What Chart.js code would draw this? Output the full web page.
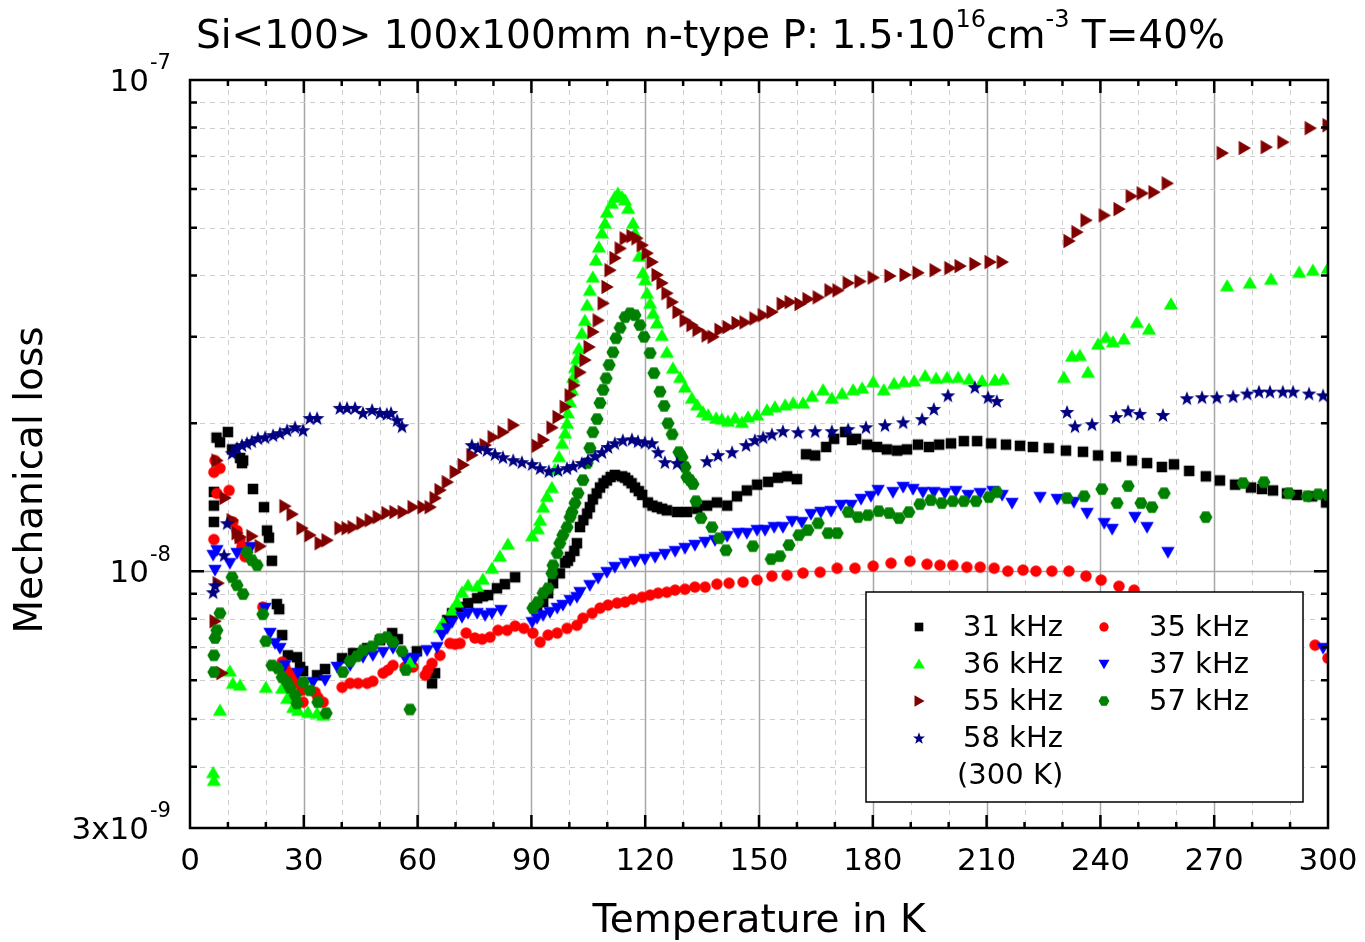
<!DOCTYPE html>
<html>
<head>
<meta charset="utf-8">
<title>Mechanical loss vs temperature</title>
<script src="https://cdn.jsdelivr.net/npm/chart.js@4.4.1/dist/chart.umd.min.js"></script>
<style>
  html, body { margin: 0; padding: 0; background: #fff; }
  #lossChart { display: block; }
</style>
</head>
<body>
<canvas id="lossChart" width="1365" height="942"></canvas>
<script>
// loss values are given in units of 1e-8, temperature in K
const LOSS_UNIT = 1e-8;

const xTickLabels = [0, 30, 60, 90, 120, 150, 180, 210, 240, 270, 300];
const xGridSteps = [10, 20, 30, 40, 50, 60, 70, 80, 90, 100, 110, 120, 130, 140, 150, 160, 170, 180, 190, 200, 210, 220, 230, 240, 250, 260, 270, 280, 290];
const yGridValues = [4e-9, 5e-9, 6e-9, 7e-9, 8e-9, 9e-9, 1e-8, 2e-8, 3e-8, 4e-8, 5e-8, 6e-8, 7e-8, 8e-8, 9e-8];
const yTickLabels = [
    { value: 1e-7, base: '10', exp: '-7' },
    { value: 1e-8, base: '10', exp: '-8' },
    { value: 3e-9, base: '3x10', exp: '-9' }
];

const loss31 = [[7.0,1.87],[7.9,1.83],[10.0,1.92],[6.3,1.45],[6.3,1.36],[6.3,1.26],[11.1,1.77],[13.2,1.70],[14.0,1.68],[13.7,1.66],[16.6,1.47],[19.5,1.35],[20.3,1.21],[20.8,1.17],[21.6,1.05],[22.9,0.857],[23.5,0.837],[24.3,0.741],[25.8,0.674],[28.2,0.668],[29.0,0.638],[29.8,0.626],[33.5,0.614],[35.6,0.632],[40.1,0.665],[43.0,0.681],[46.7,0.697],[50.1,0.724],[53.3,0.748],[54.8,0.727],[59.8,0.687],[64.6,0.620],[63.8,0.591],[67.8,0.795],[69.1,0.821],[71.2,0.845],[73.3,0.861],[75.7,0.881],[77.2,0.889],[78.6,0.894],[80.9,0.923],[83.0,0.941],[85.7,0.972],
    [91.5,0.845],[93.1,0.865],[94.4,0.902],[95.7,0.945],[97.5,0.99],[98.9,1.04],[99.6,1.05],[100.2,1.07],[101.3,1.10],[102.0,1.14],[102.8,1.23],[103.7,1.27],[104.7,1.31],[105.4,1.35],[106.2,1.40],[107.2,1.44],[108.1,1.48],[109.0,1.51],[109.9,1.53],[110.9,1.555],[112.0,1.57],[113.9,1.56],[114.7,1.55],[115.5,1.53],[116.4,1.51],[117.3,1.48],[118.3,1.455],[119.2,1.43],[120.7,1.38],[121.9,1.36],[123.1,1.35],[124.4,1.34],[125.7,1.33],[128.4,1.32],[131.0,1.32],[133.7,1.34],[136.3,1.36],[138.9,1.38],[141.6,1.36],[144.2,1.42],[146.8,1.46],[149.5,1.50],[152.4,1.52],[155.0,1.55],[157.4,1.56],[160.0,1.54],
    [162.4,1.73],[164.8,1.72],[167.7,1.79],[169.8,1.86],[172.7,1.92],[174.5,1.85],[175.6,1.86],[178.5,1.81],[181.1,1.79],[183.7,1.77],[186.4,1.76],[189.0,1.77],[191.9,1.81],[194.8,1.79],[197.5,1.81],[200.6,1.82],[204.0,1.84],[207.5,1.84],[211.2,1.82],[215.1,1.81],[218.8,1.80],[222.2,1.79],[226.4,1.78],[230.9,1.76],[235.4,1.75],[239.4,1.72],[244.1,1.71],[248.3,1.68],[252.3,1.66],[256.2,1.63],[259.4,1.65],[263.4,1.60],[267.8,1.56],[271.5,1.53],[275.5,1.50],[279.7,1.48],[282.6,1.47],[285.5,1.46],[289.2,1.44],[291.8,1.43],[295.8,1.42],[299.5,1.38]];

const loss35 = [[6.6,1.68],[6.3,1.59],[7.9,1.62],[7.1,1.44],[10.3,1.46],[11.3,1.26],[12.4,1.21],[13.2,1.16],[13.7,1.12],[14.5,1.07],[6.3,1.16],[19.2,0.845],[24.3,0.653],[25.0,0.638],[26.4,0.620],[27.2,0.605],[28.5,0.591],[29.5,0.572],[29.8,0.541],[33.0,0.567],[33.7,0.553],[35.1,0.541],[40.1,0.580],[42.2,0.591],[44.3,0.591],[46.7,0.591],[48.2,0.597],[50.9,0.620],[52.2,0.629],[53.5,0.643],[56.7,0.638],[58.8,0.638],[62.0,0.614],[62.7,0.629],[63.8,0.649],[65.9,0.674],[68.5,0.713],[69.9,0.710],[71.2,0.713],[72.8,0.748],[75.1,0.731],[77.0,0.727],[79.1,0.734],[81.2,0.758],[83.6,0.758],[85.7,0.773],[88.0,0.765],[90.4,0.748],[92.3,0.717],[94.4,0.741],[96.8,0.748],[99.4,0.765],[102.0,0.776],[103.6,0.802],[106.0,0.821],[108.1,0.841],[110.2,0.853],[112.6,0.861],[114.7,0.865],[116.8,0.877],[119.2,0.885],[121.3,0.894],[123.4,0.902],[125.7,0.906],[127.9,0.915],[130.5,0.919],[133.1,0.928],[135.8,0.928],[138.9,0.941],[142.1,0.945],[145.8,0.950],[149.5,0.959],[153.4,0.977],[157.4,0.981],[161.6,0.991],[166.1,0.995],[170.6,1.014],[175.3,1.014],[180.1,1.024],[184.8,1.038],[189.8,1.048],[194.3,1.033],[197.7,1.028],[201.1,1.028],[204.8,1.019],[208.3,1.019],[212.0,1.014],[215.6,1.0],[219.6,1.005],[223.0,1.0],[227.2,1.0],[231.7,1.0],[236.2,0.977],[240.2,0.959],[244.9,0.932],[248.9,0.915],[296.6,0.707],[300.0,0.665]];

const loss36 = [[6.1,0.389],[6.3,0.375],[7.9,0.521],[10.5,0.626],[11.3,0.591],[13.2,0.586],[20.0,0.580],[24.3,0.578],[25.6,0.551],[27.2,0.528],[28.5,0.521],[31.1,0.516],[33.5,0.514],[35.1,0.509],[58.0,0.653],[65.9,0.769],[66.7,0.784],[69.1,0.833],[70.4,0.865],[71.7,0.906],[73.3,0.936],[75.7,0.932],[77.2,0.963],[79.6,1.014],[81.7,1.073],[83.8,1.135],
    [90.2,1.18],[91.7,1.22],[92.3,1.27],[93.1,1.35],[94.1,1.42],[95.4,1.48],[96.2,1.61],[97.3,1.71],[98.1,1.82],[98.9,1.91],[99.4,2.0],[99.6,2.10],[100.2,2.21],[100.7,2.34],[101.0,2.48],[101.5,2.60],[102.0,2.71],[102.5,2.84],[103.3,3.05],[104.1,3.24],[104.7,3.48],[105.4,3.73],[106.2,3.97],[107.0,4.30],[107.8,4.57],[108.6,4.88],[109.4,5.11],[109.9,5.38],[111.2,5.61],[112.0,5.78],[112.8,5.88],[113.9,5.78],[114.7,5.70],[115.5,5.48],[116.8,5.11],[117.3,4.88],[118.4,4.38],[119.4,4.05],[120.0,3.92],[120.5,3.68],[121.3,3.51],[122.1,3.35],[123.1,3.20],[124.4,3.02],[125.7,2.79],[127.3,2.59],[129.2,2.48],[130.5,2.37],[132.3,2.25],[133.7,2.18],[135.2,2.11],[136.6,2.08],[138.7,2.05],[140.2,2.04],[141.8,2.02],[143.7,2.05],[145.5,2.01],[147.1,2.06],[149.5,2.08],[152.1,2.13],[154.2,2.16],[156.9,2.18],[159.0,2.20],[161.6,2.20],[164.0,2.27],[166.9,2.34],[169.2,2.25],[171.9,2.30],[174.8,2.34],[177.2,2.36],[180.1,2.43],[182.9,2.34],[185.6,2.41],[188.2,2.43],[190.9,2.44],[193.8,2.50],[196.7,2.47],[199.6,2.48],[202.5,2.48],[205.4,2.46],[208.8,2.44],[212.2,2.45],[214.3,2.46],
    [230.4,2.48],[232.5,2.74],[234.6,2.75],[236.7,2.54],[239.4,2.90],[241.5,2.99],[243.3,2.93],[246.2,2.97],[249.6,3.21],[252.8,3.11],[258.6,3.50],[273.4,3.81],[279.4,3.86],[285.0,3.93],[292.4,4.06],[296.0,4.10],[300.0,4.14]];

const loss37 = [[6.1,1.078],[7.1,1.103],[6.6,1.005],[10.5,1.038],[12.4,1.088],[16.1,1.119],[19.8,0.841],[21.1,0.748],[22.4,0.713],[23.7,0.697],[25.0,0.643],[28.5,0.620],[32.4,0.594],[35.6,0.600],[38.8,0.638],[42.2,0.643],[45.6,0.668],[48.2,0.674],[50.9,0.684],[53.5,0.697],[56.7,0.665],[59.3,0.665],[62.5,0.690],[65.1,0.700],[66.4,0.741],[67.8,0.765],[69.1,0.787],[71.7,0.806],[73.3,0.821],[75.7,0.821],[77.8,0.813],[79.6,0.821],[82.0,0.833],
    [90.2,0.787],[91.5,0.802],[93.1,0.813],[94.9,0.825],[96.8,0.841],[98.3,0.853],[100.2,0.873],[102.0,0.885],[102.8,0.906],[105.4,0.936],[107.6,0.968],[109.9,0.995],[112.0,1.019],[114.7,1.038],[117.3,1.048],[119.9,1.058],[122.6,1.068],[125.2,1.083],[127.9,1.098],[130.5,1.114],[133.1,1.130],[135.8,1.146],[138.4,1.156],[141.6,1.178],[144.5,1.195],[146.8,1.195],[149.5,1.212],[151.6,1.212],[154.0,1.229],[156.3,1.229],[158.7,1.264],[161.3,1.258],[163.7,1.306],[166.3,1.319],[169.0,1.325],[171.6,1.363],[174.3,1.363],[176.9,1.402],[179.5,1.421],[181.4,1.462],[185.3,1.448],[188.0,1.483],[190.6,1.469],[193.2,1.448],[196.1,1.448],[199.0,1.441],[201.9,1.455],[205.1,1.428],[208.3,1.441],[211.7,1.455],[214.1,1.428],[216.7,1.376],
    [224.1,1.415],[228.6,1.402],[233.0,1.382],[236.5,1.313],[241.0,1.252],[243.1,1.218],[249.1,1.288],[252.3,1.229],[257.8,1.093],[298.7,0.697]];

const loss55 = [[7.1,1.68],[9.2,1.41],[11.1,1.27],[12.4,1.195],[13.2,1.173],[16.3,1.178],[18.5,1.124],[7.4,0.945],[6.6,0.791],[8.4,0.620],[25.0,1.356],[26.9,1.306],[29.5,1.223],[31.6,1.184],[34.3,1.14],[36.1,1.156],[39.5,1.223],[41.4,1.223],[43.0,1.229],[45.3,1.252],[47.5,1.27],[49.6,1.288],[51.9,1.313],[54.0,1.319],[56.2,1.319],[58.8,1.35],[61.4,1.35],[63.3,1.35],[64.6,1.408],[65.9,1.462],[67.8,1.518],[69.9,1.592],[72.0,1.645],[74.3,1.723],[77.8,1.806],[79.9,1.874],[82.5,1.918],[85.2,1.983],
    [91.5,1.80],[93.1,1.85],[95.4,1.96],[97.0,2.06],[98.9,2.16],[100.2,2.28],[101.2,2.39],[102.8,2.54],[104.1,2.69],[105.2,2.86],[106.2,3.07],[107.6,3.24],[108.9,3.51],[109.9,3.79],[110.7,4.10],[112.0,4.34],[113.4,4.54],[114.7,4.76],[116.5,4.81],[117.8,4.76],[119.2,4.61],[120.5,4.44],[121.8,4.26],[123.1,4.01],[124.4,3.86],[125.7,3.68],[127.1,3.53],[128.6,3.37],[130.5,3.24],[132.3,3.17],[133.9,3.10],[136.3,3.02],[137.9,3.00],[139.7,3.10],[141.8,3.14],[144.2,3.20],[146.3,3.21],[148.9,3.27],[151.1,3.32],[153.4,3.37],[156.1,3.50],[158.2,3.53],[160.8,3.50],[162.9,3.58],[165.6,3.61],[168.7,3.73],[170.8,3.73],[173.5,3.86],[176.6,3.89],[180.1,3.96],[184.5,3.99],[188.5,4.01],[191.9,4.05],[196.4,4.10],[200.3,4.14],[203.0,4.18],[206.9,4.22],[210.9,4.26],[214.1,4.26],
    [231.7,4.70],[233.8,4.90],[236.2,5.18],[241.0,5.30],[244.9,5.46],[248.1,5.80],[251.0,5.88],[254.1,5.91],[257.6,6.16],[272.1,7.10],[277.9,7.27],[283.7,7.30],[288.1,7.47],[295.3,7.98],[300.0,8.09]];

const loss57 = [[6.3,0.623],[6.3,0.674],[6.6,0.731],[7.1,0.758],[7.9,0.821],[11.1,0.972],[12.4,0.936],[14.0,0.898],[15.0,1.093],[16.3,1.053],[17.7,1.028],[19.2,0.817],[20.0,0.720],[21.6,0.643],[23.2,0.634],[24.3,0.608],[25.6,0.594],[26.4,0.578],[27.7,0.559],[28.2,0.538],[29.8,0.594],[31.6,0.572],[33.7,0.541],[35.9,0.514],[40.3,0.623],[42.2,0.656],[44.0,0.671],[45.6,0.690],[48.0,0.703],[50.1,0.727],[51.9,0.734],[53.5,0.717],[55.9,0.687],[56.9,0.629],[58.0,0.523],
    [90.4,0.841],[91.7,0.865],[93.1,0.902],[94.4,0.923],[95.4,0.99],[95.7,1.028],[96.8,1.088],[97.5,1.14],[98.3,1.184],[99.4,1.229],[100.2,1.288],[100.7,1.319],[101.5,1.376],[102.3,1.441],[103.6,1.532],[104.7,1.66],[105.4,1.781],[106.2,1.918],[107.3,2.04],[108.1,2.20],[108.9,2.34],[109.7,2.47],[110.5,2.63],[111.5,2.79],[112.3,2.98],[113.4,3.13],[114.7,3.29],[116.0,3.35],[117.3,3.32],[118.6,3.17],[119.7,3.00],[121.3,2.78],[122.3,2.53],[123.9,2.32],[125.0,2.17],[126.0,2.00],[127.1,1.90],[128.9,1.747],[129.7,1.706],[130.5,1.63],[131.0,1.554],[131.8,1.532],[132.6,1.504],[133.4,1.388],[134.7,1.282],[137.6,1.229],[139.5,1.167],[141.3,1.103],[148.4,1.124],[153.2,1.058],[155.5,1.073],[157.9,1.130],[160.5,1.184],[162.9,1.212],[165.6,1.252],[168.2,1.195],[170.6,1.195],[173.5,1.319],[176.1,1.288],[178.7,1.30],[181.6,1.325],[184.3,1.313],[186.9,1.282],[189.5,1.319],[192.4,1.369],[195.3,1.395],[198.2,1.376],[201.1,1.388],[204.0,1.388],[207.2,1.388],[210.6,1.415],[212.7,1.448],
    [231.2,1.408],[235.7,1.421],[240.4,1.469],[244.4,1.376],[247.3,1.49],[250.7,1.376],[253.6,1.35],[256.8,1.441],[267.8,1.288],[277.6,1.511],[283.1,1.518],[289.7,1.441],[294.5,1.421],[297.4,1.434],[300.0,1.43]];

const loss58 = [[6.1,0.906],[6.6,0.936],[9.0,1.078],[9.8,1.252],[11.1,1.739],[12.4,1.781],[13.7,1.806],[15.0,1.822],[16.3,1.839],[17.9,1.865],[19.8,1.874],[21.9,1.892],[23.7,1.91],[25.6,1.937],[27.7,1.964],[29.8,1.937],[31.6,2.05],[33.5,2.05],[39.5,2.15],[41.4,2.15],[43.5,2.15],[45.6,2.10],[48.0,2.13],[50.1,2.10],[51.9,2.09],[53.0,2.10],[54.6,2.03],[55.9,1.973],
    [74.3,1.806],[75.9,1.781],[78.3,1.764],[80.4,1.731],[82.5,1.706],[85.2,1.683],[87.5,1.667],[90.2,1.652],[92.3,1.621],[94.6,1.598],[97.0,1.606],[99.4,1.621],[101.0,1.637],[103.3,1.66],[104.9,1.683],[106.8,1.715],[108.6,1.747],[110.2,1.79],[112.0,1.822],[114.1,1.848],[116.5,1.856],[118.1,1.839],[119.9,1.83],[121.8,1.822],[123.4,1.747],[125.2,1.667],[128.4,1.66],[136.3,1.675],[139.2,1.723],[142.9,1.747],[146.6,1.806],[148.9,1.848],[151.1,1.874],[153.4,1.90],[156.3,1.928],[160.3,1.918],[164.8,1.928],[169.2,1.928],[173.5,1.946],[178.2,1.964],[183.2,1.983],[188.0,2.01],[193.0,2.04],[196.1,2.14],[199.8,2.28],[206.9,2.37],[210.4,2.26],[212.7,2.22],
    [231.2,2.11],[233.3,1.973],[237.8,1.992],[244.1,2.06],[247.3,2.117],[250.4,2.09],[256.5,2.08],[262.8,2.25],[266.8,2.26],[270.7,2.26],[275.0,2.27],[278.7,2.30],[281.8,2.32],[284.7,2.32],[288.1,2.32],[290.8,2.32],[295.0,2.30],[298.7,2.28]];

const seriesLabels = ['31 kHz', '35 kHz', '36 kHz', '37 kHz', '55 kHz', '57 kHz', '58 kHz'];
const seriesData = [loss31, loss35, loss36, loss37, loss55, loss57, loss58];
const seriesColors = ['#000000', '#ff0000', '#00ff00', '#0000ff', '#800000', '#008000', '#000080'];
const seriesShapes = ['square', 'circle', 'up', 'down', 'right', 'hex', 'star'];

const FONT = '"DejaVu Sans", Verdana, sans-serif';

// small filled symbol bitmaps, used as point styles and in the legend
function makeMarker(kind, color, k) {
    const s = 22, c = s / 2;
    const cv = document.createElement('canvas');
    cv.width = s;
    cv.height = s;
    const g = cv.getContext('2d');
    g.fillStyle = color;
    g.translate(c, c);
    g.scale(k, k);
    g.beginPath();
    if (kind === 'square') {
        g.rect(-4.8, -4.8, 9.6, 9.6);
    } else if (kind === 'circle') {
        g.arc(0, 0, 5.2, 0, Math.PI * 2);
    } else if (kind === 'up') {
        g.moveTo(0, -6.2); g.lineTo(6.5, 5.0); g.lineTo(-6.5, 5.0);
    } else if (kind === 'down') {
        g.moveTo(0, 5.8); g.lineTo(6.1, -4.8); g.lineTo(-6.1, -4.8);
    } else if (kind === 'right') {
        g.moveTo(6.2, 0); g.lineTo(-5.0, 6.5); g.lineTo(-5.0, -6.5);
    } else if (kind === 'hex') {
        for (let j = 0; j < 6; j++) {
            const a = j * Math.PI / 3;
            const px = 6.0 * Math.cos(a), py = 6.0 * Math.sin(a);
            if (j === 0) g.moveTo(px, py); else g.lineTo(px, py);
        }
    } else if (kind === 'star') {
        for (let j = 0; j < 10; j++) {
            const a = -Math.PI / 2 + j * Math.PI / 5;
            const r = j % 2 === 0 ? 7.0 : 2.9;
            const px = r * Math.cos(a), py = 0.6 + r * Math.sin(a);
            if (j === 0) g.moveTo(px, py); else g.lineTo(px, py);
        }
    }
    g.closePath();
    g.fill();
    return cv;
}

const markers = seriesShapes.map((k, i) => makeMarker(k, seriesColors[i], 1.1));
const legendMarkers = seriesShapes.map((k, i) => makeMarker(k, seriesColors[i], 0.9));

const datasets = seriesData.map((rows, i) => ({
    label: seriesLabels[i],
    data: rows.map(r => ({ x: r[0], y: r[1] * LOSS_UNIT })),
    pointStyle: markers[i],
    pointRadius: 7,
    showLine: false,
    order: seriesData.length - i,
    clip: 0
}));

function richText(ctx, x, y, parts, size, supSize, rise) {
    let cx = x;
    parts.forEach(p => {
        ctx.font = (p.sup ? supSize : size) + 'px ' + FONT;
        ctx.fillText(p.t, cx, p.sup ? y - rise : y);
        cx += ctx.measureText(p.t).width;
    });
    return cx;
}

// grid lines below the symbols
const gridPlugin = {
    id: 'lossGrid',
    beforeDatasetsDraw(chart) {
        const { ctx, chartArea: a, scales: { x, y } } = chart;
        ctx.save();
        xGridSteps.forEach(t => {
            const px = Math.round(x.getPixelForValue(t)) + 0.5;
            const major = t % 30 === 0;
            ctx.strokeStyle = major ? '#a6a6a6' : '#cdcdcd';
            ctx.lineWidth = major ? 1.5 : 1;
            ctx.setLineDash(major ? [] : [5, 5]);
            ctx.beginPath();
            ctx.moveTo(px, a.top);
            ctx.lineTo(px, a.bottom);
            ctx.stroke();
        });
        yGridValues.forEach(v => {
            const py = Math.round(y.getPixelForValue(v)) + 0.5;
            const major = v === 1e-8;
            ctx.strokeStyle = major ? '#a6a6a6' : '#cdcdcd';
            ctx.lineWidth = major ? 1.5 : 1;
            ctx.setLineDash(major ? [] : [5, 5]);
            ctx.beginPath();
            ctx.moveTo(a.left, py);
            ctx.lineTo(a.right, py);
            ctx.stroke();
        });
        ctx.restore();
    }
};

// frame, inward ticks, tick labels, titles and the boxed legend
const decorPlugin = {
    id: 'lossDecor',
    afterDatasetsDraw(chart) {
        const { ctx, chartArea: a, scales: { x, y } } = chart;
        ctx.save();
        ctx.strokeStyle = '#000';
        ctx.lineWidth = 2.5;
        ctx.setLineDash([]);

        ctx.beginPath();
        for (let t = 10; t < 300; t += 10) {
            const px = x.getPixelForValue(t);
            const len = t % 30 === 0 ? 13 : 6;
            ctx.moveTo(px, a.top); ctx.lineTo(px, a.top + len);
            ctx.moveTo(px, a.bottom); ctx.lineTo(px, a.bottom - len);
        }
        yGridValues.forEach(v => {
            const py = y.getPixelForValue(v);
            const len = v === 1e-8 ? 14 : 7;
            ctx.moveTo(a.left, py); ctx.lineTo(a.left + len, py);
            ctx.moveTo(a.right, py); ctx.lineTo(a.right - len, py);
        });
        ctx.stroke();
        ctx.strokeRect(a.left, a.top, a.right - a.left, a.bottom - a.top);

        ctx.fillStyle = '#000';
        ctx.font = '31px ' + FONT;
        ctx.textAlign = 'center';
        ctx.textBaseline = 'middle';
        xTickLabels.forEach(t => {
            ctx.fillText(String(t), x.getPixelForValue(t), a.bottom + 34);
        });

        yTickLabels.forEach(l => {
            const py = y.getPixelForValue(l.value);
            ctx.font = '31px ' + FONT;
            ctx.textAlign = 'right';
            ctx.fillText(l.base, a.left - 41, py + 3);
            ctx.font = '21px ' + FONT;
            ctx.textAlign = 'left';
            ctx.fillText(l.exp, a.left - 40, py - 16);
        });

        ctx.font = '39px ' + FONT;
        ctx.textAlign = 'center';
        ctx.fillText('Temperature in K', (a.left + a.right) / 2, a.bottom + 94);
        ctx.save();
        ctx.translate(32, (a.top + a.bottom) / 2 + 26);
        ctx.rotate(-Math.PI / 2);
        ctx.fillText('Mechanical loss', 0, 0);
        ctx.restore();

        ctx.textAlign = 'left';
        richText(ctx, 196, 38, [
            { t: 'Si<100> 100x100mm n-type P: 1.5\u00b710' },
            { t: '16', sup: true },
            { t: 'cm' },
            { t: '-3', sup: true },
            { t: ' T=40%' }
        ], 39, 24, 17);

        // legend box
        const box = { left: 866, top: 592, right: 1303, bottom: 802 };
        ctx.fillStyle = '#fff';
        ctx.fillRect(box.left, box.top, box.right - box.left, box.bottom - box.top);
        ctx.lineWidth = 1.5;
        ctx.strokeRect(box.left, box.top, box.right - box.left, box.bottom - box.top);
        ctx.fillStyle = '#000';
        ctx.font = '29px ' + FONT;
        ctx.textAlign = 'left';
        const rowY = [627, 664, 701, 738];
        const slots = [[0, 0], [1, 0], [0, 1], [1, 1], [0, 2], [1, 2], [0, 3]];
        slots.forEach((s, i) => {
            const mx = s[0] === 0 ? 919 : 1104;
            const tx = s[0] === 0 ? 963 : 1149;
            const my = rowY[s[1]];
            ctx.drawImage(legendMarkers[i], mx - 11, my - 11);
            ctx.fillText(seriesLabels[i], tx, my + 1);
        });
        ctx.fillText('(300 K)', 957, 776);
        ctx.restore();
    }
};

new Chart(document.getElementById('lossChart'), {
    type: 'scatter',
    data: { datasets },
    options: {
        responsive: false,
        animation: false,
        devicePixelRatio: 1,
        layout: { padding: { left: 190, right: 37, top: 80, bottom: 114 } },
        scales: {
            x: { type: 'linear', min: 0, max: 300, display: false },
            y: { type: 'logarithmic', min: 3e-9, max: 1e-7, display: false }
        },
        plugins: {
            legend: { display: false },
            tooltip: { enabled: false }
        }
    },
    plugins: [gridPlugin, decorPlugin]
});
</script>
</body>
</html>
